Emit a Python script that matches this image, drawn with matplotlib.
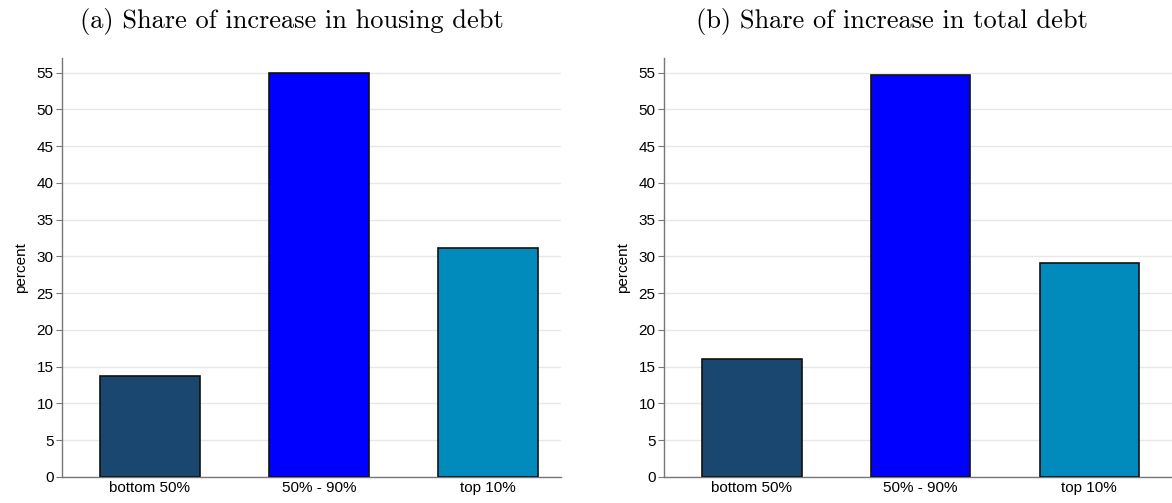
import matplotlib

matplotlib.use("Agg")
import matplotlib.pyplot as plt

# --- data ---
groups = ["bottom 50%", "50% - 90%", "top 10%"]
housing_share = [13.8, 55.0, 31.1]
total_share = [16.0, 54.7, 29.1]
titles = ["(a) Share of increase in housing debt", "(b) Share of increase in total debt"]
yticks = list(range(0, 60, 5))

bar_colors = ["#1a476f", "#0000ff", "#008bbc"]
spine_col = "#777777"

plt.rcParams["font.family"] = ["Liberation Sans", "DejaVu Sans"]

fig = plt.figure(figsize=(11.72, 5.03), dpi=100)
ax_a = fig.add_axes([0.0529, 0.0517, 0.4258, 0.833])
ax_b = fig.add_axes([0.5666, 0.0517, 0.4334, 0.833])

for ax, vals, xlim in [(ax_a, housing_share, (-0.52, 2.43)),
                       (ax_b, total_share, (-0.52, 2.49))]:
    x = range(len(groups))
    ax.bar(x, vals, width=0.59, color=bar_colors, edgecolor="#111111",
           linewidth=1.2, zorder=3)
    ax.set_xlim(*xlim)
    ax.set_ylim(0, 57)
    ax.set_yticks(yticks)
    ax.set_xticks(list(x))
    ax.set_xticklabels(groups, fontsize=11)
    ax.tick_params(axis="x", length=0, pad=3)
    ax.tick_params(axis="y", labelsize=11, length=4, width=0.8, color=spine_col, pad=2)
    ax.grid(axis="y", color="#e8e8e8", linewidth=1.0, zorder=0)
    for side in ("top", "right"):
        ax.spines[side].set_visible(False)
    for side in ("left", "bottom"):
        ax.spines[side].set_color(spine_col)
        ax.spines[side].set_linewidth(1.0)
    ax.set_ylabel("percent", fontsize=11, labelpad=6)

fig.text(0.249, 0.957, titles[0], ha="center", va="center", fontsize=19,
         family="cmr10")
fig.text(0.761, 0.957, titles[1], ha="center", va="center", fontsize=19,
         family="cmr10")

fig.savefig("out.png", dpi=100)
